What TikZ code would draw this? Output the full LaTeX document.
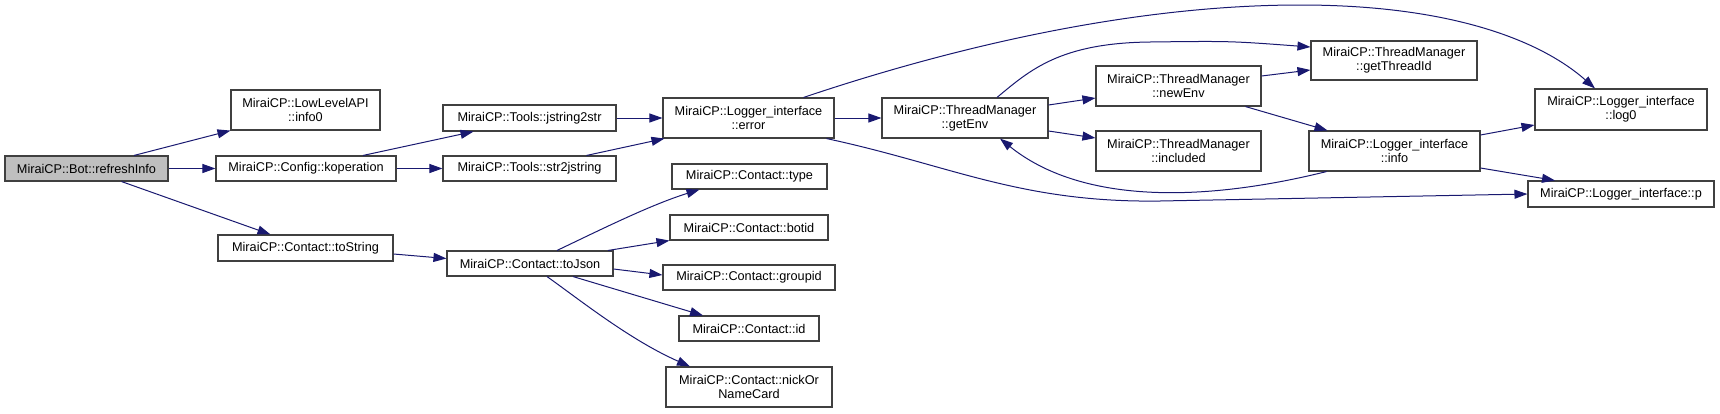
\documentclass[tikz,border=0pt]{standalone}
\usepackage{fontspec}
\setmainfont{Liberation Sans}
\usetikzlibrary{arrows.meta}
\definecolor{edgeblue}{HTML}{191970}
\definecolor{boxborder}{HTML}{404040}
\definecolor{rootfill}{HTML}{BFBFBF}
\tikzset{
  fn/.style={draw=boxborder, line width=1.1pt, fill=white, inner sep=0pt, align=center,
    font=\fontsize{12.7}{14.2}\selectfont},
  rootfn/.style={fn, fill=rootfill},
  edge/.style={draw=edgeblue, line width=1pt, -{Triangle[length=13pt,width=9pt]}},
}
\begin{document}
\begin{tikzpicture}[x=1pt,y=-1pt]
\useasboundingbox (0,0) rectangle (1720,413);
% nodes
\node[rootfn, minimum width=163pt, minimum height=25pt] (root) at (86.5,168.5) {MiraiCP::Bot::refreshInfo};
\node[fn, minimum width=149pt, minimum height=40pt] (info0) at (305.5,110) {MiraiCP::LowLevelAPI\\::info0};
\node[fn, minimum width=180pt, minimum height=25pt] (kop) at (306,168.5) {MiraiCP::Config::koperation};
\node[fn, minimum width=175pt, minimum height=26pt] (tostr) at (305.5,248) {MiraiCP::Contact::toString};
\node[fn, minimum width=173pt, minimum height=26pt] (j2s) at (529.5,118) {MiraiCP::Tools::jstring2str};
\node[fn, minimum width=173pt, minimum height=25pt] (s2j) at (529.5,168.5) {MiraiCP::Tools::str2jstring};
\node[fn, minimum width=166pt, minimum height=25pt] (tojson) at (530,263.5) {MiraiCP::Contact::toJson};
\node[fn, minimum width=171pt, minimum height=40pt] (error) at (748.5,118) {MiraiCP::Logger\_interface\\::error};
\node[fn, minimum width=155pt, minimum height=25pt] (type) at (749.5,176.5) {MiraiCP::Contact::type};
\node[fn, minimum width=158pt, minimum height=25pt] (botid) at (749,227.5) {MiraiCP::Contact::botid};
\node[fn, minimum width=172pt, minimum height=25pt] (groupid) at (749,277.5) {MiraiCP::Contact::groupid};
\node[fn, minimum width=140pt, minimum height=25pt] (id) at (749,328.5) {MiraiCP::Contact::id};
\node[fn, minimum width=166pt, minimum height=40pt] (nick) at (749,387) {MiraiCP::Contact::nickOr\\NameCard};
\node[fn, minimum width=166pt, minimum height=40pt] (getenv) at (965,118) {MiraiCP::ThreadManager\\::getEnv};
\node[fn, minimum width=165pt, minimum height=40pt] (newenv) at (1178.5,86) {MiraiCP::ThreadManager\\::newEnv};
\node[fn, minimum width=165pt, minimum height=40pt] (included) at (1178.5,151) {MiraiCP::ThreadManager\\::included};
\node[fn, minimum width=166pt, minimum height=39pt] (gettid) at (1394,60.5) {MiraiCP::ThreadManager\\::getThreadId};
\node[fn, minimum width=171pt, minimum height=40pt] (info) at (1394.5,151) {MiraiCP::Logger\_interface\\::info};
\node[fn, minimum width=172pt, minimum height=41pt] (log0) at (1621,109.5) {MiraiCP::Logger\_interface\\::log0};
\node[fn, minimum width=186pt, minimum height=26pt] (p) at (1621,194) {MiraiCP::Logger\_interface::p};
% edges
\draw[edge] (root.north east -| 134,0) -- (info0.south west);
\draw[edge] (root) -- (kop);
\draw[edge] ([xshift=-47pt]root.south east) -- ([xshift=-35pt]tostr.north);
\draw[edge] ([xshift=57pt]kop.north) -- ([xshift=-56pt]j2s.south);
\draw[edge] (kop) -- (s2j);
\draw[edge] (j2s) -- (error);
\draw[edge] ([xshift=57pt]s2j.north) -- ([xshift=2pt]error.south west);
\draw[edge] (error) -- (getenv);
\draw[edge] ([xshift=55pt]error.north) .. controls (900,65) and (1100,5) .. (1300,5)
  .. controls (1450,5) and (1540,40) .. ([xshift=-26pt]log0.north);
\draw[edge] ([xshift=78pt]error.south) .. controls (950,165) and (1020,203) .. (1160,201)
  -- (p.west);
\draw[edge] ([xshift=32pt]getenv.north) .. controls (1030,70) and (1060,43) .. (1150,42)
  .. controls (1230,41) .. ([yshift=13.5pt]gettid.west);
\draw[edge] ([yshift=13pt]getenv.east) -- ([yshift=-12pt]newenv.west);
\draw[edge] ([yshift=-13pt]getenv.east) -- ([yshift=13pt]included.west);
\draw[edge] ([yshift=10pt]newenv.east) -- ([yshift=-9.5pt]gettid.west);
\draw[edge] ([xshift=67pt]newenv.south) -- ([xshift=-67pt]info.north);
\draw[edge] ([xshift=-68pt]info.south) .. controls (1200,203) and (1080,203) .. ([xshift=35pt]getenv.south);
\draw[edge] ([yshift=16pt]info.east) -- ([yshift=-15.5pt]log0.west);
\draw[edge] ([yshift=-17pt]info.east) -- ([xshift=-66pt]p.north);
\draw[edge] ([yshift=-6pt]tostr.east) -- ([yshift=5pt]tojson.west);
\draw[edge] ([xshift=27pt]tojson.north) .. controls (600,230) and (650,205) .. ([xshift=-50pt]type.south);
\draw[edge] ([xshift=78pt]tojson.north) -- (botid.south west);
\draw[edge] ([yshift=-5.5pt]tojson.east) -- ([yshift=2.5pt]groupid.west);
\draw[edge] ([xshift=43pt]tojson.south) -- ([xshift=-46pt]id.north);
\draw[edge] ([xshift=17pt]tojson.south) .. controls (580,300) and (630,340) .. ([xshift=-59pt]nick.north);
\end{tikzpicture}
\end{document}
